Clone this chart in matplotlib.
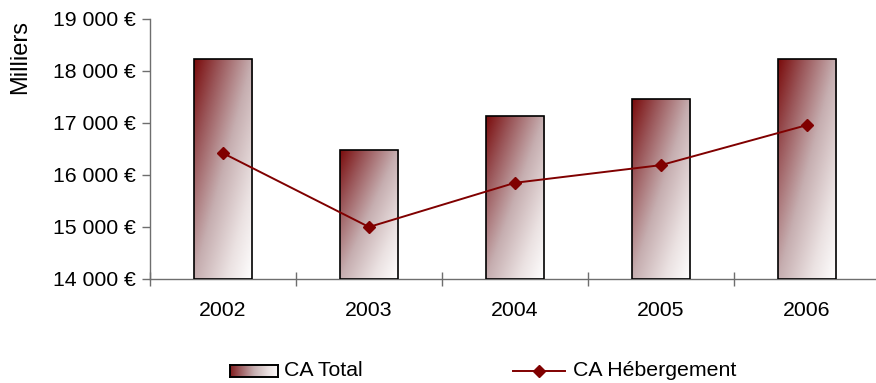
import numpy as np
import matplotlib
matplotlib.use("Agg")
import matplotlib.pyplot as plt
from matplotlib.colors import LinearSegmentedColormap
from matplotlib.lines import Line2D
from matplotlib.ticker import FuncFormatter, FixedLocator

years = ["2002", "2003", "2004", "2005", "2006"]
ca_total = [18230, 16490, 17140, 17460, 18230]
ca_hebergement = [16420, 15000, 15850, 16190, 16960]
y_ticks = [14000, 15000, 16000, 17000, 18000, 19000]

plt.rcParams["font.family"] = ["Liberation Sans", "DejaVu Sans"]
FS = 15.3
DARK = "#800000"
AXIS = "#6e6e6e"

grad_cmap = LinearSegmentedColormap.from_list(
    "bordeaux",
    [(0.0, "#7a0c0c"), (0.22, "#9a5558"), (0.5, "#c6aeb0"),
     (0.78, "#ebe2e2"), (1.0, "#ffffff")],
)


def gradient(nx=60, ny=200):
    u = np.linspace(0, 1, nx)[None, :]
    v = np.linspace(0, 1, ny)[:, None]
    return 0.5 * u + 0.5 * v


fig = plt.figure(figsize=(8.76, 3.83), dpi=100)
ax = fig.add_axes([150 / 876, 104 / 383, 730 / 876, 260 / 383])

x = np.arange(len(years))
base = y_ticks[0]
bars = ax.bar(x, np.array(ca_total) - base, bottom=base, width=0.4,
              color="none", edgecolor="black", linewidth=1.2, zorder=3)
for b in bars:
    x0, y0 = b.get_x(), b.get_y()
    im = ax.imshow(gradient(), cmap=grad_cmap, vmin=0, vmax=1,
                   extent=(x0, x0 + b.get_width(), y0, y0 + b.get_height()),
                   origin="upper", aspect="auto", zorder=2,
                   interpolation="bilinear")
    im.set_clip_path(b)

ax.plot(x, ca_hebergement, color=DARK, lw=1.4, marker="D", markersize=6.5,
        markerfacecolor=DARK, markeredgecolor=DARK, zorder=4)

ax.set_xlim(-0.5, len(years) - 0.5)
ax.set_ylim(y_ticks[0], y_ticks[-1])

for s in ("top", "right"):
    ax.spines[s].set_visible(False)
for s in ("left", "bottom"):
    ax.spines[s].set_color(AXIS)
    ax.spines[s].set_linewidth(1.0)

ax.set_yticks(y_ticks)
ax.yaxis.set_major_formatter(
    FuncFormatter(lambda v, p: f"{int(v):,}".replace(",", " ") + " €"))
ax.tick_params(axis="y", direction="out", length=6, width=1.0,
               color=AXIS, labelsize=FS, pad=4)

ax.set_xticks(x)
ax.set_xticklabels(years)
ax.tick_params(axis="x", which="major", length=0, labelsize=FS, pad=16)
ax.xaxis.set_minor_locator(FixedLocator(np.arange(-0.5, len(years), 1.0)))
ax.tick_params(axis="x", which="minor", direction="inout", length=10,
               width=1.0, color=AXIS)

fig.text(20 / 876, 1 - 57 / 383, "Milliers", rotation=90, fontsize=17,
         ha="center", va="center")

# legend, drawn in figure coordinates
ly = 1 - 371 / 383
lax = fig.add_axes([230 / 876, 1 - 377 / 383, 48 / 876, 12 / 383])
lax.imshow(np.linspace(0, 1, 100)[None, :] * 0.9 + 0.05, cmap=grad_cmap,
           vmin=0, vmax=1, aspect="auto", extent=(0, 1, 0, 1))
lax.set_xlim(0, 1)
lax.set_ylim(0, 1)
lax.set_xticks([])
lax.set_yticks([])
for s in lax.spines.values():
    s.set_linewidth(1.4)
    s.set_color("black")
fig.text(284 / 876, ly, "CA Total", fontsize=FS, ha="left", va="center")

fig.add_artist(Line2D([513 / 876, 565 / 876], [ly, ly], color=DARK, lw=1.4,
                      transform=fig.transFigure))
fig.add_artist(Line2D([539 / 876], [ly], color=DARK, marker="D",
                      markersize=6.5, transform=fig.transFigure))
fig.text(573 / 876, ly, "CA Hébergement", fontsize=FS, ha="left",
         va="center")

fig.savefig("out.png", dpi=100)
